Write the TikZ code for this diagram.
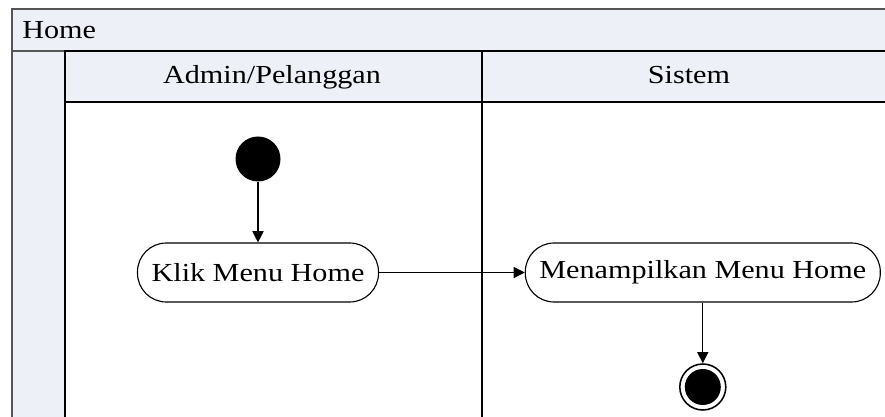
\documentclass[tikz,border=0pt]{standalone}
\usepackage{fontspec}
\setmainfont{Liberation Serif}[FakeStretch=1.16]
\usetikzlibrary{arrows.meta,positioning}
\definecolor{lanefill}{HTML}{EDF0F6}
\definecolor{framegray}{HTML}{555555}
\begin{document}
\begin{tikzpicture}[
  font=\fontsize{18.5}{22}\selectfont,
  band/.style={fill=lanefill, draw=framegray, thick},
  lanehead/.style={fill=lanefill, draw=black, line width=1.1pt},
  laneline/.style={draw=black, line width=1.1pt},
  activity/.style={draw, thick, rounded corners=0.72cm, minimum width=#1, minimum height=1.475cm, inner sep=2pt},
  startstate/.style={circle, fill=black, minimum size=1.125cm, inner sep=0pt},
  endstate/.style={circle, draw=black, line width=1.1pt, minimum size=1.15cm, inner sep=0pt},
  flow/.style={-{Triangle[length=0.28cm, width=0.28cm]}, thick},
]
% Page size, cut at the right and bottom edge
\clip (0, 0) rectangle (22.125, -10.425);

% Pool header and left strip
\draw[band] (0.3, -0.225) rectangle (23.0, -1.275);
\draw[band] (0.3, -1.275) rectangle (1.625, -11.0);
\node[anchor=base west, inner sep=0pt] (pool) at (0.55, -0.975) {Home};

% Lanes
\draw[lanehead] (1.625, -1.275) rectangle (12.05, -2.55);
\draw[lanehead] (12.05, -1.275) rectangle (23.0, -2.55);
\draw[laneline] (1.625, -2.55) -- (1.625, -11.0);
\draw[laneline] (12.05, -2.55) -- (12.05, -11.0);
\node[anchor=base, inner sep=0pt] (lane1) at (6.8, -2.08) {Admin/Pelanggan};
\node[anchor=base, inner sep=0pt] (lane2) at (17.225, -2.08) {Sistem};

% Activities
\node[startstate] (start) at (6.45, -3.975) {};
\node[activity=6.025cm] (klik) at (6.45, -6.8125) {Klik Menu Home};
\node[activity=8.875cm] (tampil) at (17.57, -6.8125) {Menampilkan Menu Home};
\node[endstate] (end) at (17.57, -9.675) {};
\fill (end.center) circle (0.45);

% Flows
\draw[flow] (start) -- (klik);
\draw[flow] (klik) -- (tampil);
\draw[flow] (tampil) -- (end);
\end{tikzpicture}
\end{document}
